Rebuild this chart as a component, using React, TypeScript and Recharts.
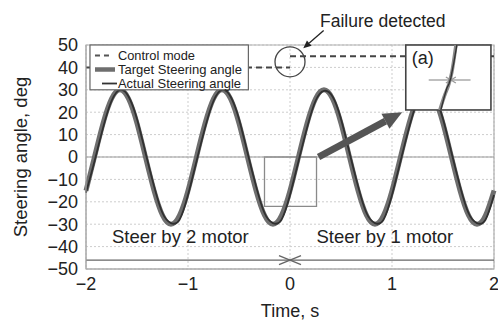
import React from 'react';
import {
  LineChart,
  Line,
  XAxis,
  YAxis,
  CartesianGrid,
  ReferenceLine,
  ReferenceArea,
  ReferenceDot,
} from 'recharts';

const FONT = '"Liberation Sans", Arial, Helvetica, sans-serif';

// Time axis (s)
const times = [
  -2, -1.917, -1.833, -1.75, -1.667, -1.583, -1.5, -1.417, -1.333, -1.25, -1.167, -1.083,
  -1, -0.917, -0.833, -0.75, -0.667, -0.583, -0.5, -0.417, -0.333, -0.25, -0.167, -0.083,
  0, 0.083, 0.167, 0.25, 0.333, 0.417, 0.5, 0.583, 0.667, 0.75, 0.833, 0.917,
  1, 1.083, 1.167, 1.25, 1.333, 1.417, 1.5, 1.583, 1.667, 1.75, 1.833, 1.917, 2,
];
// Target steering angle (deg)
const targetAngle = [
  -15, 0, 15, 26, 30, 26, 15, 0, -15, -26, -30, -26,
  -15, 0, 15, 26, 30, 26, 15, 0, -15, -26, -30, -26,
  -15, 0, 15, 26, 30, 26, 15, 0, -15, -26, -30, -26,
  -15, 0, 15, 26, 30, 26, 15, 0, -15, -26, -30, -26,
  -15,
];
// Actual steering angle (deg)
const actualAngle = [
  -16, -2, 13, 25, 30, 27, 17, 2, -13, -25, -29.5, -28,
  -17, -2, 13, 25, 30, 27, 17, 2, -13, -25, -29.5, -28,
  -17, -2, 13, 25, 29.5, 27, 17, 2, -13, -25, -29.5, -28,
  -17, -2, 13, 25, 30, 27, 17, 2, -13, -25, -29.5, -28,
  -17,
];
// Control mode trace
const modeTimes = [-2, 0, 0, 0, 2];
const modeValues = [40, 40, null, 45, 45];

// Inset (a) zoomed traces
const insetTargetT = [1.469, 1.518, 1.558, 1.587, 1.627];
const insetTargetV = [21, 27.7, 32.6, 37.9, 50];
const insetActualT = [1.479, 1.509, 1.538, 1.558, 1.577, 1.607, 1.636];
const insetActualV = [21, 26.3, 30.8, 32.6, 35.3, 42.4, 50];

const xTicks = [-2, -1, 0, 1, 2];
const yTicks = [-50, -40, -30, -20, -10, 0, 10, 20, 30, 40, 50];

const legendItems = ['Control mode', 'Target Steering angle', 'Actual Steering angle'];
const legendWidths = [77, 124, 123];

const waveData = times.map((t, i) => ({ t, target: targetAngle[i], actual: actualAngle[i] }));
const modeData = modeTimes.map((t, i) => ({ t, mode: modeValues[i] }));
const insetTarget = insetTargetT.map((t, i) => ({ t, v: insetTargetV[i] }));
const insetActual = insetActualT.map((t, i) => ({ t, v: insetActualV[i] }));

const fmt = (v: number) => String(v).replace('-', '\u2212');

const LegendShape = (p: any) => {
  const { x, y, width, height } = p;
  return (
    <g>
      <rect x={x} y={y} width={width} height={height} fill="#fff" stroke="#666" strokeWidth={1.2} />
      <line x1={x + 5} y1={y + 10.5} x2={x + 23} y2={y + 10.5} stroke="#555" strokeWidth={2} strokeDasharray="5 4" />
      <line x1={x + 5} y1={y + 24.5} x2={x + 25} y2={y + 24.5} stroke="#6e6e6e" strokeWidth={4.5} />
      <line x1={x + 12} y1={y + 38.5} x2={x + 27} y2={y + 38.5} stroke="#333" strokeWidth={1.8} />
      {legendItems.map((s, i) => (
        <text
          key={s}
          x={x + 28}
          y={y + 14.5 + i * 14}
          fontSize={13}
          fontFamily={FONT}
          fill="#222"
          textLength={legendWidths[i]}
          lengthAdjust="spacingAndGlyphs"
        >
          {s}
        </text>
      ))}
    </g>
  );
};

const InsetShape = (p: any) => {
  const { x, y, width, height } = p;
  return (
    <g>
      <rect x={x} y={y} width={width} height={height} fill="#fff" stroke="#444" strokeWidth={1.6} />
      <text x={x + 6} y={y + 19} fontSize={18} fontFamily={FONT} fill="#222">(a)</text>
    </g>
  );
};

const BigArrow = (p: any) => {
  const { x1, y1, x2, y2 } = p;
  const dx = x2 - x1;
  const dy = y2 - y1;
  const len = Math.sqrt(dx * dx + dy * dy) || 1;
  const ux = dx / len;
  const uy = dy / len;
  const hl = 19;
  const hw = 8.5;
  const bx = x2 - ux * hl;
  const by = y2 - uy * hl;
  return (
    <g>
      <line x1={x1} y1={y1} x2={bx} y2={by} stroke="#555" strokeWidth={7} />
      <polygon
        points={`${x2},${y2} ${bx - uy * hw},${by + ux * hw} ${bx + uy * hw},${by - ux * hw}`}
        fill="#555"
      />
    </g>
  );
};

const SmallArrow = (p: any) => {
  const { x1, y1, x2, y2 } = p;
  const dx = x2 - x1;
  const dy = y2 - y1;
  const len = Math.sqrt(dx * dx + dy * dy) || 1;
  const ux = dx / len;
  const uy = dy / len;
  const hl = 8;
  const hw = 3.5;
  const bx = x2 - ux * hl;
  const by = y2 - uy * hl;
  return (
    <g>
      <line x1={x1} y1={y1} x2={bx} y2={by} stroke="#222" strokeWidth={1.3} />
      <polygon
        points={`${x2},${y2} ${bx - uy * hw},${by + ux * hw} ${bx + uy * hw},${by - ux * hw}`}
        fill="#222"
      />
    </g>
  );
};

const textShape = (label: string, anchor: string, size: number) => (p: any) => (
  <text x={p.cx} y={p.cy} fontSize={size} fontFamily={FONT} fill="#222" textAnchor={anchor}>
    {label}
  </text>
);

const CrossMark = (p: any) => (
  <g stroke="#666" strokeWidth={1.4}>
    <line x1={p.cx - 11} y1={p.cy - 4.5} x2={p.cx + 11} y2={p.cy + 4.5} />
    <line x1={p.cx - 11} y1={p.cy + 4.5} x2={p.cx + 11} y2={p.cy - 4.5} />
  </g>
);

const CrossTick = (p: any) => (
  <g stroke="#999" strokeWidth={1.2}>
    <line x1={p.cx - 5} y1={p.cy - 3} x2={p.cx + 5} y2={p.cy + 3} />
    <line x1={p.cx - 5} y1={p.cy + 3} x2={p.cx + 5} y2={p.cy - 3} />
  </g>
);

export default function App() {
  return (
    <div style={{ position: 'absolute', left: 0, top: 0, width: 498, height: 320, background: '#fff' }}>
      <LineChart width={498} height={320} data={waveData} margin={{ top: 45, right: 4, bottom: 0, left: 0 }}>
        <CartesianGrid stroke="#cdcdcd" strokeDasharray="2 2" verticalValues={xTicks} horizontalValues={yTicks} />
        <XAxis
          dataKey="t"
          type="number"
          domain={[-2, 2]}
          ticks={xTicks}
          interval={0}
          tickFormatter={fmt}
          tickLine={false}
          tickSize={0}
          tickMargin={8}
          height={51}
          axisLine={{ stroke: '#aaa' }}
          tick={{ fontSize: 18, fill: '#222', fontFamily: FONT }}
          label={(props: any) => (
            <text x={290} y={317} textAnchor="middle" fontSize={18} fontFamily={FONT} fill="#222">
              Time, s
            </text>
          )}
        />
        <YAxis
          type="number"
          domain={[-50, 50]}
          ticks={yTicks}
          interval={0}
          tickFormatter={fmt}
          tickLine={false}
          tickSize={0}
          tickMargin={8}
          width={86}
          axisLine={{ stroke: '#aaa' }}
          tick={{ fontSize: 18, fill: '#222', fontFamily: FONT }}
          label={(props: any) => (
            <text
              x={27}
              y={157}
              transform="rotate(-90 27 157)"
              textAnchor="middle"
              fontSize={18.5}
              fontFamily={FONT}
              fill="#222"
            >
              Steering angle, deg
            </text>
          )}
        />
        <ReferenceArea x1={-2} x2={2} y1={-50} y2={50} fill="none" stroke="#b0b0b0" strokeWidth={1.2} />
        <ReferenceLine y={0} stroke="#9a9a9a" strokeWidth={1.2} />
        <ReferenceLine y={-46} stroke="#666" strokeWidth={1.3} />
        <ReferenceDot x={0} y={-46} r={0} shape={CrossMark} />
        <ReferenceArea x1={-0.25} x2={0.26} y1={-22} y2={0} fill="none" stroke="#8a8a8a" strokeWidth={1.3} fillOpacity={0} />
        <ReferenceDot x={-1.745} y={-38.4} r={0} shape={textShape('Steer by 2 motor', 'start', 18.5)} />
        <ReferenceDot x={0.26} y={-38.4} r={0} shape={textShape('Steer by 1 motor', 'start', 18.5)} />

        <Line data={modeData} dataKey="mode" type="linear" stroke="#444" strokeWidth={2} strokeDasharray="6 4" dot={false} isAnimationActive={false} connectNulls={false} />
        <Line dataKey="target" type="natural" stroke="#6e6e6e" strokeWidth={5} dot={false} isAnimationActive={false} />
        <Line dataKey="actual" type="natural" stroke="#303030" strokeWidth={1.8} dot={false} isAnimationActive={false} />

        <ReferenceDot x={0} y={42.5} r={15} fill="none" stroke="#444" strokeWidth={1.3} />

        <ReferenceArea x1={-1.961} x2={-0.408} y1={30} y2={50} shape={LegendShape} zIndex={1500} />
        <ReferenceArea x1={1.135} x2={1.97} y1={21} y2={50} shape={InsetShape} zIndex={1500} />
        <ReferenceLine segment={[{ x: 1.36, y: 34.4 }, { x: 1.77, y: 34.4 }]} stroke="#aaa" strokeWidth={1.6} zIndex={1600} />
        <ReferenceDot x={1.577} y={34.4} r={0} shape={CrossTick} zIndex={1650} />
        <Line data={insetTarget} dataKey="v" type="monotone" stroke="#8a8a8a" strokeWidth={3.5} dot={false} isAnimationActive={false} zIndex={1700} />
        <Line data={insetActual} dataKey="v" type="linear" stroke="#333" strokeWidth={1.4} dot={false} isAnimationActive={false} zIndex={1700} />

        <ReferenceLine segment={[{ x: 0.28, y: 0 }, { x: 1.1, y: 20 }]} shape={BigArrow} zIndex={1800} />
        <ReferenceLine segment={[{ x: 0.33, y: 56.5 }, { x: 0.13, y: 48.5 }]} ifOverflow="visible" shape={SmallArrow} zIndex={1800} />
        <ReferenceDot x={0.91} y={58} r={0} ifOverflow="visible" shape={textShape('Failure detected', 'middle', 17.5)} zIndex={1800} />
      </LineChart>
    </div>
  );
}
